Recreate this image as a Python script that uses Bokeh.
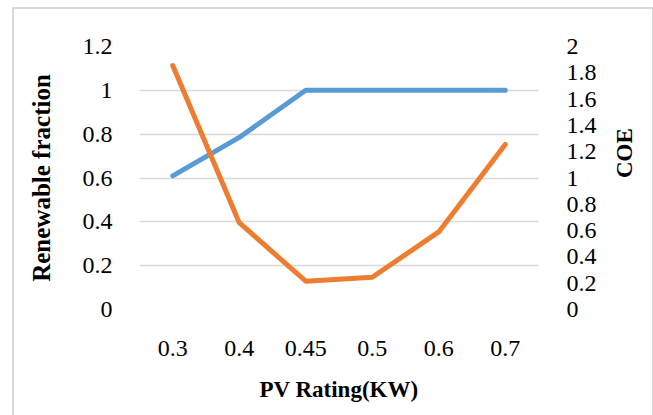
import math
from bokeh.plotting import figure
from bokeh.layouts import column
from bokeh.models import FactorRange, Range1d, LinearAxis, FixedTicker
from bokeh.embed import file_html
from bokeh.resources import INLINE

categories = ["0.3", "0.4", "0.45", "0.5", "0.6", "0.7"]
renewable_fraction = [0.61, 0.785, 1.0, 1.0, 1.0, 1.0]
coe = [1.855, 0.66, 0.215, 0.245, 0.59, 1.255]
left_ticks = [0, 0.2, 0.4, 0.6, 0.8, 1.0, 1.2]
right_ticks = [0, 0.2, 0.4, 0.6, 0.8, 1.0, 1.2, 1.4, 1.6, 1.8, 2.0]

FONT = "Liberation Serif"
TICK_SIZE = "24px"
TITLE_SIZE = "23px"

p = figure(width=638, height=410, x_range=FactorRange(*categories),
           y_range=Range1d(0, 1.2), output_backend="svg", toolbar_location=None,
           min_border_left=125, min_border_right=110, min_border_top=37, min_border_bottom=110)
p.extra_y_ranges = {"coe": Range1d(0, 2)}
p.outline_line_color = None
p.background_fill_color = "white"
p.border_fill_color = "white"

p.xgrid.grid_line_color = None
p.ygrid.grid_line_color = "#d9d9d9"
p.ygrid.grid_line_width = 1.5
p.ygrid.ticker = FixedTicker(ticks=left_ticks)

p.line(categories, renewable_fraction, line_color="#5b9bd5", line_width=5,
       line_cap="round", line_join="round")
p.line(categories, coe, line_color="#ed7d31", line_width=5,
       line_cap="round", line_join="round", y_range_name="coe")

def style_axis(ax):
    ax.axis_line_color = None
    ax.major_tick_line_color = None
    ax.minor_tick_line_color = None
    ax.major_label_text_font = FONT
    ax.major_label_text_font_size = TICK_SIZE
    ax.major_label_text_color = "#000000"
    ax.axis_label_text_font = FONT
    ax.axis_label_text_font_size = TITLE_SIZE
    ax.axis_label_text_font_style = "bold"
    ax.axis_label_text_color = "#000000"

yl = p.yaxis[0]
yl.ticker = FixedTicker(ticks=left_ticks)
yl.axis_label = "Renewable fraction"
yl.major_label_standoff = 21
yl.axis_label_standoff = 25
style_axis(yl)
yl.axis_label_text_font_size = "25px"

yr = LinearAxis(y_range_name="coe", ticker=FixedTicker(ticks=right_ticks), axis_label="COE")
yr.major_label_standoff = 22
yr.axis_label_standoff = 25
yr.axis_label_orientation = math.pi / 2
style_axis(yr)
p.add_layout(yr, "right")

xa = p.xaxis[0]
xa.axis_label = "PV Rating(KW)"
xa.major_label_standoff = 25
xa.axis_label_standoff = 18
style_axis(xa)

layout = column(p, styles={"border-top": "2px solid #d9d9d9",
                           "border-left": "2px solid #d9d9d9",
                           "border-right": "2px solid #d9d9d9",
                           "border-bottom": "none",
                           "margin-left": "12px", "margin-top": "7px",
                           "background": "white"})

open("out.html", "w").write(file_html(layout, INLINE))
